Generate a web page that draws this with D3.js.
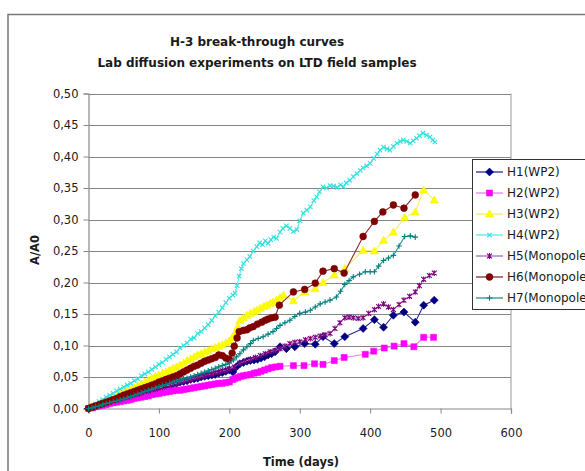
<!DOCTYPE html>
<html><head><meta charset="utf-8">
<script src="https://cdn.jsdelivr.net/npm/d3@7"></script>
<style>body{margin:0;background:#fff;overflow:hidden} svg{display:block} text{font-family:"DejaVu Sans",sans-serif;fill:#1a1a1a}</style>
</head><body><svg width="585" height="471"></svg>
<script>
// ---------- DATA ----------
const titleLines = ["H-3 break-through curves", "Lab diffusion experiments on LTD field samples"];
const xTitle = "Time (days)";
const yTitle = "A/A0";
const xTicks = [0, 100, 200, 300, 400, 500, 600];
const xTickLabels = ["0", "100", "200", "300", "400", "500", "600"];
const yTicks = [0, 0.05, 0.10, 0.15, 0.20, 0.25, 0.30, 0.35, 0.40, 0.45, 0.50];
const yTickLabels = ["0,00", "0,05", "0,10", "0,15", "0,20", "0,25", "0,30", "0,35", "0,40", "0,45", "0,50"];
const seriesNames = ["H1(WP2)", "H2(WP2)", "H3(WP2)", "H4(WP2)", "H5(Monopole)", "H6(Monopole)", "H7(Monopole)"];

const earlyDays = [0,5,10,15,20,25,30,35,40,45,50,55,60,65,70,75,80,85,90,95,100,105,110,115,120,125,130,135,140,145,150,155,160,165,170,175,180,185,190,195,200];

const h1Early = [0,.002,.003,.005,.007,.009,.010,.012,.014,.016,.017,.019,.021,.023,.024,.026,.028,.030,.031,.033,.034,.036,.037,.038,.039,.040,.042,.043,.044,.046,.047,.048,.050,.051,.052,.053,.054,.056,.057,.059,.061];
const h1Late = [[205,.058],[210,.066],[215,.071],[220,.073],[225,.075],[230,.076],[235,.077],[240,.078],[245,.080],[250,.082],[255,.085],[260,.087],[265,.090],[272,.098],[281,.095],[293,.098],[307,.103],[322,.102],[333,.114],[349,.103],[364,.114],[390,.127],[406,.141],[419,.129],[433,.148],[448,.153],[464,.137],[476,.164],[491,.172]];

const h2Early = [0,.001,.003,.004,.005,.006,.008,.009,.010,.011,.012,.013,.014,.016,.017,.018,.019,.020,.022,.023,.024,.025,.026,.027,.028,.029,.029,.030,.031,.032,.033,.034,.035,.036,.037,.038,.039,.040,.040,.041,.042];
const h2Late = [[205,.046],[208,.048],[212,.049],[216,.051],[220,.052],[225,.053],[230,.054],[235,.056],[240,.057],[245,.059],[250,.061],[255,.063],[260,.065],[266,.066],[272,.067],[291,.068],[306,.068],[321,.071],[333,.070],[349,.076],[363,.081],[393,.086],[405,.091],[420,.096],[434,.099],[448,.103],[462,.098],[476,.113],[490,.113]];

const h3Early = [0,.003,.005,.008,.010,.013,.015,.018,.020,.023,.025,.028,.030,.033,.036,.039,.042,.045,.048,.051,.053,.056,.058,.061,.064,.066,.069,.072,.076,.079,.082,.085,.087,.090,.092,.095,.097,.099,.101,.104,.107];
const h3Late = [[204,.112],[208,.119],[212,.130],[215,.140],[220,.144],[225,.148],[230,.151],[235,.154],[239,.156],[244,.159],[249,.162],[253,.164],[258,.167],[262,.169],[267,.172],[272,.176],[277,.180],[291,.171],[307,.185],[322,.190],[333,.200],[349,.212],[364,.222],[390,.251],[406,.250],[419,.267],[433,.280],[449,.303],[464,.312],[476,.347],[491,.331]];

const h4Early = [0,.004,.007,.011,.014,.018,.021,.024,.028,.031,.034,.037,.040,.044,.047,.052,.055,.058,.062,.066,.070,.073,.078,.082,.086,.090,.096,.100,.104,.110,.112,.119,.122,.128,.133,.140,.147,.153,.160,.168,.175];
const h4Late = [[205,.180],[208,.183],[211,.195],[214,.210],[217,.222],[220,.230],[225,.236],[229,.241],[234,.250],[239,.257],[243,.263],[247,.260],[251,.266],[255,.262],[259,.268],[263,.272],[267,.270],[272,.280],[276,.286],[281,.290],[286,.286],[291,.281],[296,.284],[300,.298],[305,.310],[310,.315],[315,.320],[320,.330],[324,.336],[328,.344],[333,.352],[338,.350],[343,.354],[348,.353],[353,.351],[358,.355],[362,.352],[366,.358],[371,.362],[376,.368],[381,.373],[386,.378],[390,.382],[395,.385],[400,.389],[405,.397],[410,.404],[414,.410],[419,.415],[424,.412],[428,.410],[433,.416],[438,.421],[443,.424],[447,.426],[452,.424],[457,.421],[461,.425],[466,.429],[470,.433],[475,.437],[480,.434],[485,.431],[489,.426],[492,.423]];

const h5Early = [0,.002,.003,.005,.007,.008,.010,.012,.013,.015,.017,.018,.020,.022,.023,.025,.027,.028,.030,.031,.033,.034,.036,.037,.039,.040,.042,.043,.045,.046,.048,.049,.051,.052,.054,.055,.057,.058,.060,.061,.063];
const h5Late = [[207,.066],[215,.072],[222,.075],[230,.078],[237,.081],[244,.084],[251,.087],[258,.090],[265,.092],[272,.095],[279,.099],[286,.103],[293,.105],[300,.106],[308,.109],[315,.111],[322,.113],[329,.115],[336,.117],[343,.119],[350,.127],[357,.136],[364,.144],[370,.145],[376,.144],[383,.143],[390,.144],[398,.151],[406,.157],[412,.162],[419,.166],[426,.161],[433,.157],[441,.165],[448,.172],[456,.178],[464,.185],[470,.195],[476,.205],[484,.211],[491,.215]];

const h6Early = [0,.002,.004,.006,.008,.010,.012,.014,.016,.019,.021,.023,.025,.027,.029,.031,.033,.035,.037,.039,.042,.044,.046,.048,.050,.052,.055,.058,.061,.064,.067,.069,.072,.075,.077,.079,.081,.085,.084,.080,.078];
const h6Late = [[204,.088],[207,.099],[211,.112],[214,.122],[220,.124],[225,.125],[229,.128],[234,.130],[240,.134],[246,.137],[251,.140],[255,.142],[260,.144],[265,.145],[271,.164],[291,.185],[307,.189],[322,.199],[333,.218],[349,.222],[363,.215],[390,.273],[406,.297],[418,.312],[433,.323],[448,.318],[464,.339]];

const h7Early = [0,.001,.003,.004,.006,.008,.009,.011,.012,.014,.015,.017,.019,.021,.023,.025,.027,.029,.031,.033,.035,.037,.038,.040,.042,.043,.045,.047,.048,.050,.052,.054,.056,.058,.060,.062,.064,.066,.068,.070,.072];
const h7Late = [[206,.077],[210,.082],[215,.087],[220,.093],[225,.098],[230,.103],[234,.108],[241,.111],[248,.114],[255,.118],[262,.122],[267,.127],[272,.132],[279,.136],[286,.140],[293,.146],[300,.151],[308,.153],[315,.156],[322,.161],[329,.166],[336,.169],[343,.172],[352,.177],[358,.186],[364,.197],[370,.203],[376,.209],[385,.213],[393,.217],[400,.217],[406,.217],[412,.226],[419,.235],[426,.239],[433,.243],[441,.258],[449,.273],[457,.274],[464,.272]];

const seriesEarly = [h1Early, h2Early, h3Early, h4Early, h5Early, h6Early, h7Early];
const seriesLate = [h1Late, h2Late, h3Late, h4Late, h5Late, h6Late, h7Late];

// ---------- STYLE ----------
const styles = [
  {marker:"diamond", r:4,   fill:"#000080", stroke:"#000080", line:"#2a2a96"},
  {marker:"square",  r:3,   fill:"#ff00ff", stroke:"#ff00ff", line:"#ee80ee"},
  {marker:"triangle",r:4,   fill:"#ffff00", stroke:"#f2f200", line:"#f4f060"},
  {marker:"x",       r:2.2, fill:"none",    stroke:"#30e0e0", line:"#60e6e6"},
  {marker:"star",    r:2.4, fill:"none",    stroke:"#800080", line:"#a070b8"},
  {marker:"circle",  r:3.4, fill:"#800000", stroke:"#800000", line:"#8a2a2a"},
  {marker:"plus",    r:2.8, fill:"none",    stroke:"#008080", line:"#2a9090"}
];

function markerPath(type, r) {
  switch (type) {
    case "diamond": return `M0,${-r}L${r},0L0,${r}L${-r},0Z`;
    case "square": return `M${-r},${-r}h${2*r}v${2*r}h${-2*r}Z`;
    case "triangle": return `M0,${-r}L${r},${r*0.75}L${-r},${r*0.75}Z`;
    case "x": return `M${-r},${-r}L${r},${r}M${-r},${r}L${r},${-r}`;
    case "star": return `M${-r},${-r}L${r},${r}M${-r},${r}L${r},${-r}M0,${-r*1.2}V${r*1.2}`;
    case "circle": return d3.symbol(d3.symbolCircle, Math.PI*r*r)();
    case "plus": return `M${-r},0H${r}M0,${-r}V${r}`;
  }
}

// ---------- DRAW ----------
const svg = d3.select("svg");
svg.append("rect").attr("x", 8).attr("y", 14.5).attr("width", 700).attr("height", 600)
  .attr("fill", "#fff").attr("stroke", "#777").attr("stroke-width", 1.5);

const x = d3.scaleLinear().domain([0, 600]).range([88.5, 511]);
const y = d3.scaleLinear().domain([0, 0.5]).range([408.5, 93.5]);

// gridlines
svg.append("g").selectAll("line").data(yTicks.slice(1)).join("line")
  .attr("x1", x(0)).attr("x2", x(600))
  .attr("y1", d => Math.round(y(d)) + 0.5).attr("y2", d => Math.round(y(d)) + 0.5)
  .attr("stroke", "#858585").attr("stroke-width", 1.2);
// plot area right border
svg.append("line").attr("x1", x(600)).attr("x2", x(600)).attr("y1", y(0.5)).attr("y2", y(0))
  .attr("stroke", "#999").attr("stroke-width", 1);

// axes
const xAxis = svg.append("g").attr("transform", `translate(0,${y(0)})`)
  .call(d3.axisBottom(x).tickValues(xTicks).tickSize(5).tickPadding(15)
    .tickFormat((d, i) => xTickLabels[i]));
const yAxis = svg.append("g").attr("transform", `translate(${x(0)},0)`)
  .call(d3.axisLeft(y).tickValues(yTicks).tickSize(5).tickPadding(5)
    .tickFormat((d, i) => yTickLabels[i]));
[xAxis, yAxis].forEach(g => {
  g.select(".domain").attr("stroke", "#888").attr("stroke-width", 1.2);
  g.selectAll(".tick line").attr("stroke", "#888");
  g.selectAll("text").attr("font-size", "11.5px").attr("font-family", "DejaVu Sans").attr("fill", "#1a1a1a");
});

// series
const line = d3.line().x(d => x(d[0])).y(d => y(d[1]));
const plot = svg.append("g");
seriesEarly.forEach((early, i) => {
  const pts = earlyDays.map((t, j) => [t, early[j]]).concat(seriesLate[i]);
  const st = styles[i];
  const g = plot.append("g");
  g.append("path").datum(pts).attr("d", line).attr("fill", "none")
    .attr("stroke", st.line).attr("stroke-width", 1.1);
  g.selectAll("path.m").data(pts).join("path").attr("class", "m")
    .attr("transform", d => `translate(${x(d[0])},${y(d[1])})`)
    .attr("d", markerPath(st.marker, st.r))
    .attr("fill", st.fill).attr("stroke", st.stroke).attr("stroke-width", st.fill === "none" ? 1.1 : 0.6);
});

// titles
svg.append("g").selectAll("text").data(titleLines).join("text")
  .attr("x", 257).attr("y", (d, i) => 42 + i * 20.5)
  .attr("text-anchor", "middle").attr("dominant-baseline", "central")
  .attr("font-size", "12px").attr("font-weight", "bold").text(d => d);
svg.append("text").attr("x", 301).attr("y", 462).attr("text-anchor", "middle")
  .attr("dominant-baseline", "central").attr("font-size", "11.5px").attr("font-weight", "bold").text(xTitle);
svg.append("text").attr("transform", "translate(35,250) rotate(-90)").attr("text-anchor", "middle")
  .attr("dominant-baseline", "central").attr("font-size", "11.5px").attr("font-weight", "bold").text(yTitle);

// legend
const lg = svg.append("g");
lg.append("rect").attr("x", 472.5).attr("y", 159.5).attr("width", 150).attr("height", 150)
  .attr("fill", "#fff").attr("stroke", "#333").attr("stroke-width", 1);
seriesNames.forEach((name, i) => {
  const st = styles[i];
  const cy = 172 + i * 21;
  lg.append("line").attr("x1", 476).attr("x2", 503).attr("y1", cy).attr("y2", cy)
    .attr("stroke", st.line).attr("stroke-width", 1.3);
  lg.append("path").attr("transform", `translate(489.5,${cy})`).attr("d", markerPath(st.marker, st.r))
    .attr("fill", st.fill).attr("stroke", st.stroke).attr("stroke-width", st.fill === "none" ? 1.1 : 0.6);
  lg.append("text").attr("x", 507).attr("y", cy).attr("dominant-baseline", "central")
    .attr("font-size", "12px").text(name);
});
</script>
</body></html>
